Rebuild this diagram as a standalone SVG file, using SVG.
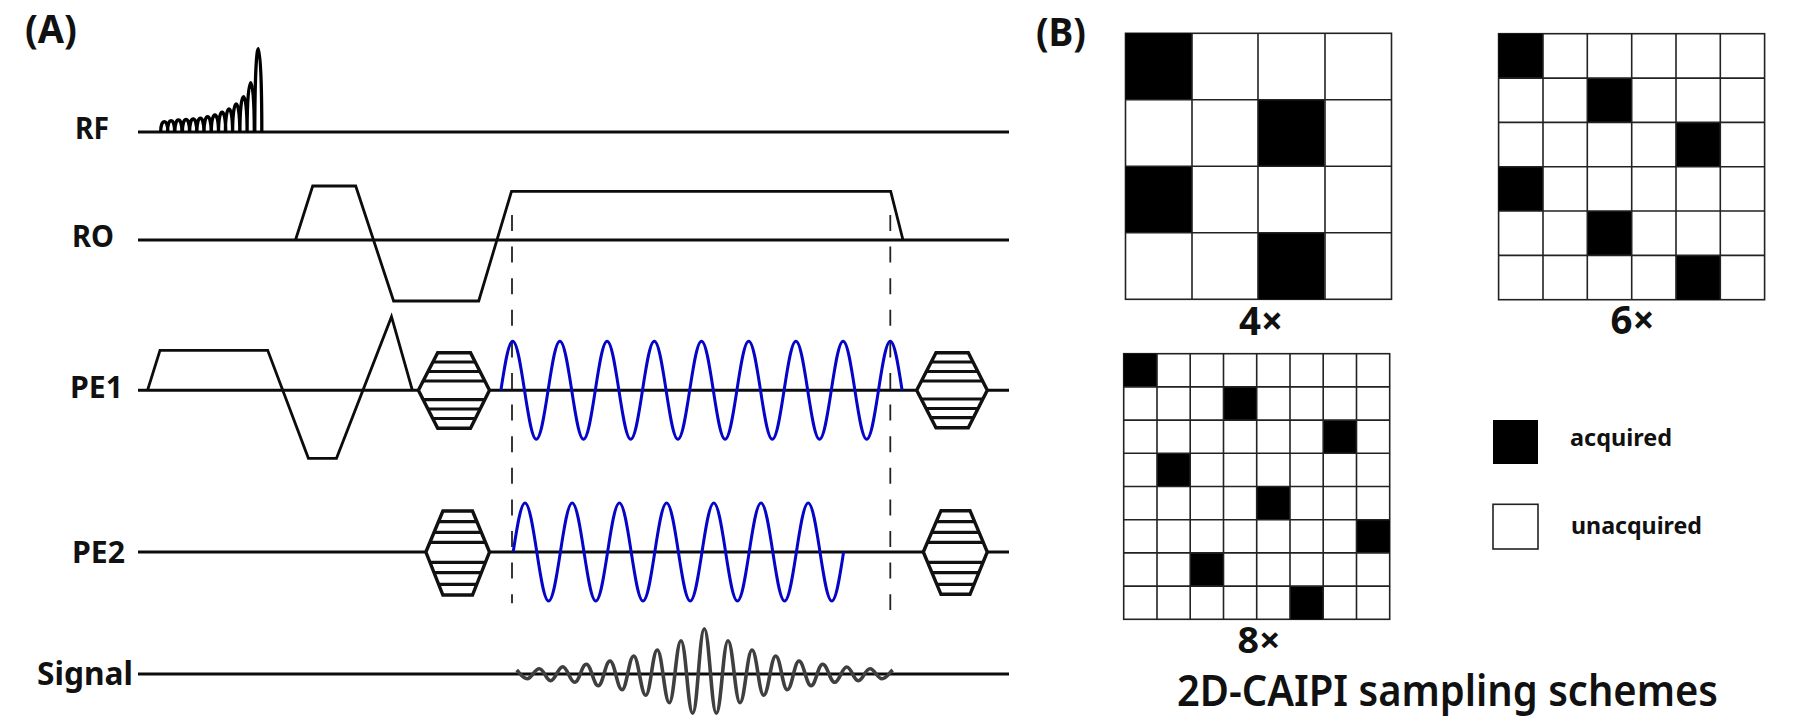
<svg xmlns="http://www.w3.org/2000/svg" width="1800" height="721" viewBox="0 0 1800 721">
<style>
text{font-family:"Noto Sans","Open Sans","DejaVu Sans",sans-serif;font-weight:700;fill:#111}
.axis{stroke:#0c0c0c;stroke-width:3;fill:none}
.grad{stroke:#0c0c0c;stroke-width:2.8;fill:none;stroke-linejoin:miter}
.rf{stroke:#000;stroke-width:3.3;fill:none}
.blue{stroke:#0505c8;stroke-width:3;fill:none}
.sig{stroke:#3f3f3f;stroke-width:3.6;fill:none}
.dash{stroke:#222;stroke-width:1.8;stroke-dasharray:16 15.6;fill:none}
.hex{stroke:#111;stroke-width:3.4;fill:#fff;stroke-linejoin:miter}
.stripe{stroke:#111;stroke-width:3.2;fill:none}
.cell{fill:#000}
.grid{stroke:#222;stroke-width:1.6;fill:#fff}
.gl{stroke:#222;stroke-width:1.6;fill:none}
</style>
<rect width="1800" height="721" fill="#fff"/>

<g id="labels-a">
<text x="25" y="43" font-size="40" textLength="52" lengthAdjust="spacingAndGlyphs">(A)</text>
<text x="75" y="139" font-size="31" textLength="34" lengthAdjust="spacingAndGlyphs">RF</text>
<text x="72" y="247" font-size="31" textLength="42" lengthAdjust="spacingAndGlyphs">RO</text>
<text x="70" y="398" font-size="31" textLength="53" lengthAdjust="spacingAndGlyphs">PE1</text>
<text x="72" y="563" font-size="31" textLength="53" lengthAdjust="spacingAndGlyphs">PE2</text>
<text x="37" y="685" font-size="33" textLength="96" lengthAdjust="spacingAndGlyphs">Signal</text>
</g>

<g id="axes">
<path class="axis" d="M138 132H1009M138 240H1009M138 390.3H1009M138 552H1009M138 674H1009"/>
</g>

<g id="rf-pulse">
<path class="rf" d="M160.7 132C160.7 118.2 167.9 118.2 167.9 132M167.5 132C167.5 116.9 174.7 116.9 174.7 132M174.8 132C174.8 116 182 116 182 132M182.4 132C182.4 115.1 189.6 115.1 189.6 132M189.6 132C189.6 114.7 196.8 114.7 196.8 132M196.8 132C196.8 113.7 204 113.7 204 132M204 132C204 111.6 211.2 111.6 211.2 132M211.3 132C211.3 109.3 218.5 109.3 218.5 132M218.5 132C218.5 105.7 225.7 105.7 225.7 132M225.4 132C225.4 101.3 232.6 101.3 232.6 132M232.6 132C232.6 94.7 239.8 94.7 239.8 132M239.9 132C239.9 84.9 247.1 84.9 247.1 132M247.1 132C247.1 66.3 254.3 66.3 254.3 132M254.8 132C254.8 21 261.8 21 261.8 132"/>
</g>

<g id="ro-gradient">
<path class="grad" d="M295.5 240L312.7 186H355.7L393.6 301H478.7L511.5 191.3H890.7L903 240"/>
</g>

<g id="pe1-gradient">
<path class="grad" d="M147.5 390.3L160 350.3H267.7L308.4 458.3H336.5L391.5 316.7L412.4 390.3"/>
</g>

<g id="encoding-hexagons">
<g id="hex-pe1-left">
<polygon class="hex" points="418.4,390.3 437.7,352.7 470.5,352.7 489.5,390.3 470.5,428.3 437.7,428.3"/>
<path class="stripe" d="M433 362H475.5M428 371.5H480M423 381H485M423 399.7H485M428 409H480M433 418.5H475.5"/>
</g>
<g id="hex-pe1-right">
<polygon class="hex" points="916.7,390.3 936,352.7 968.3,352.7 987.3,390.3 968.3,427.7 936,427.7"/>
<path class="stripe" d="M931 362H973M926 371.5H978M922 381H982M922 399H982M927 408.5H977M931 417.7H973"/>
</g>
<g id="hex-pe2-left">
<polygon class="hex" points="425.9,552 442.9,511 472.5,511 489.5,552 472.5,595 442.9,595"/>
<path class="stripe" d="M438 521.7H477M434 532.3H481M430 542.3H485M430 562.3H485M434 572.7H481M439 584.3H476"/>
</g>
<g id="hex-pe2-right">
<polygon class="hex" points="923.3,552 941,510.7 970,510.7 987.3,552 970,594.3 941,594.3"/>
<path class="stripe" d="M936 521.7H975M932 532.3H979M928 542.3H983M928 562.3H983M932 572.7H979M937 584.3H974"/>
</g>
</g>

<g id="dashed-guides">
<path class="dash" d="M512 215V603.3"/>
<path class="dash" d="M890.3 215V610"/>
</g>

<g id="pe1-wave">
<path class="blue" d="M500.9 390.3c3.85-25.1 7.53-49 11.8-49c4.27 0 7.95 23.9 11.8 49c3.85 25.1 7.53 49 11.8 49c4.27 0 7.95-23.9 11.8-49c3.85-25.1 7.53-49 11.8-49c4.27 0 7.95 23.9 11.8 49c3.85 25.1 7.53 49 11.8 49c4.27 0 7.95-23.9 11.8-49c3.85-25.1 7.53-49 11.8-49c4.27 0 7.95 23.9 11.8 49c3.85 25.1 7.53 49 11.8 49c4.27 0 7.95-23.9 11.8-49c3.85-25.1 7.53-49 11.8-49c4.27 0 7.95 23.9 11.8 49c3.85 25.1 7.53 49 11.8 49c4.27 0 7.95-23.9 11.8-49c3.85-25.1 7.53-49 11.8-49c4.27 0 7.95 23.9 11.8 49c3.85 25.1 7.53 49 11.8 49c4.27 0 7.95-23.9 11.8-49c3.85-25.1 7.53-49 11.8-49c4.27 0 7.95 23.9 11.8 49c3.85 25.1 7.53 49 11.8 49c4.27 0 7.95-23.9 11.8-49c3.85-25.1 7.53-49 11.8-49c4.27 0 7.95 23.9 11.8 49c3.85 25.1 7.53 49 11.8 49c4.27 0 7.95-23.9 11.8-49c3.85-25.1 7.53-49 11.8-49c4.27 0 7.95 23.9 11.8 49c3.85 25.1 7.53 49 11.8 49c4.27 0 7.95-23.9 11.8-49c3.85-25.1 7.53-49 11.8-49c4.27 0 7.95 23.9 11.8 49"/>
</g>

<g id="pe2-wave">
<path class="blue" d="M513.2 552c3.85-25.1 7.53-49 11.8-49c4.27 0 7.95 23.9 11.8 49c3.85 25.1 7.53 49 11.8 49c4.27 0 7.95-23.9 11.8-49c3.85-25.1 7.53-49 11.8-49c4.27 0 7.95 23.9 11.8 49c3.85 25.1 7.53 49 11.8 49c4.27 0 7.95-23.9 11.8-49c3.85-25.1 7.53-49 11.8-49c4.27 0 7.95 23.9 11.8 49c3.85 25.1 7.53 49 11.8 49c4.27 0 7.95-23.9 11.8-49c3.85-25.1 7.53-49 11.8-49c4.27 0 7.95 23.9 11.8 49c3.85 25.1 7.53 49 11.8 49c4.27 0 7.95-23.9 11.8-49c3.85-25.1 7.53-49 11.8-49c4.27 0 7.95 23.9 11.8 49c3.85 25.1 7.53 49 11.8 49c4.27 0 7.95-23.9 11.8-49c3.85-25.1 7.53-49 11.8-49c4.27 0 7.95 23.9 11.8 49c3.85 25.1 7.53 49 11.8 49c4.27 0 7.95-23.9 11.8-49c3.85-25.1 7.53-49 11.8-49c4.27 0 7.95 23.9 11.8 49c3.85 25.1 7.53 49 11.8 49c4.27 0 7.95-23.9 11.8-49"/>
</g>

<g id="signal-wave">
<path class="sig" d="M516.7 670C520 673.5 523 678.7 527.3 678.7S534.6 668.7 539.3 668.7S546 680.7 550.7 680.7S558 666.7 562.7 666.7S570 682.3 574.7 682.3S581.6 664.3 586.3 664.3S593.6 685.7 598.3 685.7S605.3 661 610 661S617.3 689.7 622 689.7S629 656 633.7 656S641 695.3 645.7 695.3S652.6 650 657.3 650S664.6 702.7 669.3 702.7S676.3 640.7 681 640.7S688 713.3 692.7 713.3S699.6 628.7 704.3 628.7S711.6 713.3 716.3 713.3S723.3 640.7 728 640.7S735.3 702.7 740 702.7S747.3 650 752 650S759 695.3 763.7 695.3S771 656 775.7 656S782.6 689.7 787.3 689.7S794.3 661 799 661S806.3 685.7 811 685.7S818 664.3 822.7 664.3S830 682.3 834.7 682.3S842 667 846.7 667S853.6 680.7 858.3 680.7S865.3 668.7 870 668.7S877.3 678.7 882 678.7S889 673 892.7 670"/>
</g>

<g id="labels-b">
<text x="1036" y="46" font-size="40" textLength="50" lengthAdjust="spacingAndGlyphs">(B)</text>
</g>

<g id="grid-4x">
<rect class="grid" x="1125.5" y="33.3" width="266" height="266"/>
<path class="cell" d="M1125.5 33.3h66.5v66.5h-66.5zM1258 99.8h66.5v66.5h-66.5zM1125.5 166.3h66.5v66.5h-66.5zM1258 232.8h66.5v66.5h-66.5z"/>
<path class="gl" d="M1192 33.3V299.3M1258 33.3V299.3M1325 33.3V299.3M1125.5 99.8H1391.5M1125.5 166.3H1391.5M1125.5 232.8H1391.5"/>
<text x="1261" y="335" font-size="39" text-anchor="middle" textLength="44" lengthAdjust="spacingAndGlyphs">4×</text>
</g>

<g id="grid-6x">
<rect class="grid" x="1498.6" y="33.7" width="266" height="266"/>
<path class="cell" d="M1498.6 33.7h44.4v44.4h-44.4zM1587.3 78.1h44.4v44.4h-44.4zM1675.9 122.4h44.4v44.4h-44.4zM1498.6 166.7h44.4v44.4h-44.4zM1587.3 211h44.4v44.4h-44.4zM1675.9 255.4h44.4v44.3h-44.4z"/>
<path class="gl" d="M1543 33.7V299.7M1587.3 33.7V299.7M1631.7 33.7V299.7M1676 33.7V299.7M1720.3 33.7V299.7M1498.6 78.1H1764.6M1498.6 122.4H1764.6M1498.6 166.7H1764.6M1498.6 211H1764.6M1498.6 255.4H1764.6"/>
<text x="1632.5" y="334" font-size="39" text-anchor="middle" textLength="44" lengthAdjust="spacingAndGlyphs">6×</text>
</g>

<g id="grid-8x">
<rect class="grid" x="1123.7" y="353.7" width="266" height="265.6"/>
<path class="cell" d="M1123.7 353.7h33.25v33.2h-33.25zM1223.5 386.9h33.25v33.2h-33.25zM1323.2 420.1h33.25v33.2h-33.25zM1157 453.3h33.25v33.2h-33.25zM1256.7 486.5h33.25v33.2h-33.25zM1356.5 519.7h33.25v33.2h-33.25zM1190.2 552.9h33.25v33.2h-33.25zM1290 586.1h33.25v33.2h-33.25z"/>
<path class="gl" d="M1157 353.7V619.3M1190.2 353.7V619.3M1223.5 353.7V619.3M1256.7 353.7V619.3M1290 353.7V619.3M1323.2 353.7V619.3M1356.5 353.7V619.3M1123.7 386.9H1389.7M1123.7 420.1H1389.7M1123.7 453.3H1389.7M1123.7 486.5H1389.7M1123.7 519.7H1389.7M1123.7 552.9H1389.7M1123.7 586.1H1389.7"/>
<text x="1259" y="653" font-size="36" text-anchor="middle" textLength="43" lengthAdjust="spacingAndGlyphs">8×</text>
</g>

<g id="legend">
<rect x="1493" y="420" width="45" height="44" fill="#000"/>
<rect class="grid" x="1493" y="504.3" width="45" height="44.7"/>
<text x="1570" y="446" font-size="23" textLength="102" lengthAdjust="spacingAndGlyphs">acquired</text>
<text x="1571" y="534" font-size="23" textLength="131" lengthAdjust="spacingAndGlyphs">unacquired</text>
</g>

<text id="title-b" x="1177" y="705.5" font-size="44" style="font-weight:600" textLength="541" lengthAdjust="spacingAndGlyphs">2D-CAIPI sampling schemes</text>
</svg>
